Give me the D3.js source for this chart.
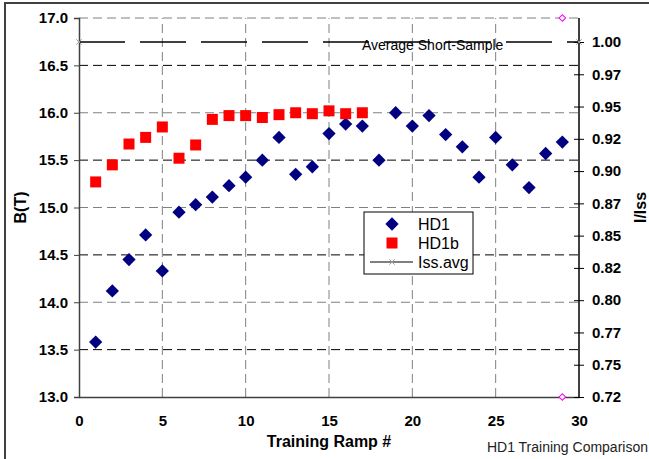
<!DOCTYPE html>
<html>
<head>
<meta charset="utf-8">
<script src="https://cdn.jsdelivr.net/npm/d3@7"></script>
<style>
  body { margin: 0; background: #fff; }
  text { font-family: "Liberation Sans", Arial, sans-serif; }
</style>
</head>
<body>
<div id="viz-container"></div>
<script>
// data
const ramps = d3.range(1, 30);
const hd1 = [13.58, 14.12, 14.45, 14.71, 14.33, 14.95, 15.03, 15.11, 15.23, 15.32,
             15.50, 15.74, 15.35, 15.43, 15.78, 15.88, 15.86, 15.50, 16.00, 15.86,
             15.97, 15.77, 15.64, 15.32, 15.74, 15.45, 15.21, 15.57, 15.69];
const hd1bRamps = d3.range(1, 18);
const hd1b = [15.27, 15.45, 15.67, 15.74, 15.85, 15.52, 15.66, 15.93, 15.97, 15.97,
              15.95, 15.98, 16.00, 15.99, 16.02, 15.99, 16.00];
const issAvgX = [0, 30];
const issAvgY = [1.0, 1.0];
const scalerX = [29, 29];
const scalerY = [17.0, 13.0];
const leftTicks = [13.0, 13.5, 14.0, 14.5, 15.0, 15.5, 16.0, 16.5, 17.0];
const rightTicks = [0.725, 0.75, 0.775, 0.8, 0.825, 0.85, 0.875, 0.9, 0.925, 0.95, 0.975, 1.0];
const rightLabels = ["0.72", "0.75", "0.77", "0.80", "0.82", "0.85", "0.87", "0.90", "0.92", "0.95", "0.97", "1.00"];
const xTicks = [0, 5, 10, 15, 20, 25, 30];

const width = 649, height = 459;
const marginLeft = 79, marginRight = 70, marginTop = 18, marginBottom = 62;

const svg = d3.select("#viz-container").append("svg")
  .attr("width", width).attr("height", height);

// outer frame
svg.append("rect").attr("x", 5).attr("y", 3).attr("width", 700).attr("height", 500)
  .attr("fill", "none").attr("stroke", "#404040").attr("stroke-width", 2);

const x = d3.scaleLinear().domain([0, 30]).range([marginLeft, width - marginRight]);
const y = d3.scaleLinear().domain([13, 17]).range([height - marginBottom, marginTop]);
// right axis: 0.725 at the bottom, 1.00 sits at y≈42
const y2 = d3.scaleLinear().domain([0.725, 1.0]).range([y(13), 42]);

// gridlines
svg.append("g").selectAll("line")
  .data(leftTicks.filter(d => d > 13))
  .join("line")
  .attr("x1", x(0)).attr("x2", x(30))
  .attr("y1", d => y(d)).attr("y2", d => y(d))
  .attr("stroke", d => d % 1 === 0 ? "#808080" : "#000")
  .attr("stroke-dasharray", "9,5");

svg.append("g").selectAll("line")
  .data([5, 10, 15, 20, 25])
  .join("line")
  .attr("x1", d => x(d)).attr("x2", d => x(d))
  .attr("y1", y(13)).attr("y2", y(17))
  .attr("stroke", "#808080")
  .attr("stroke-dasharray", "9,5");

// left axis
const yAxis = svg.append("g")
  .attr("transform", `translate(${marginLeft},0)`)
  .call(d3.axisLeft(y).tickValues(leftTicks).tickFormat(d3.format(".1f")).tickSize(5).tickPadding(6));
yAxis.select(".domain").attr("stroke", "#404040").attr("stroke-width", 1.5);
yAxis.selectAll(".tick line").attr("stroke", "#404040");
yAxis.selectAll("text").attr("font-size", 15).attr("font-weight", "bold").attr("fill", "#000")
  .attr("font-family", "Liberation Sans, Arial, sans-serif");

// bottom axis
const xAxis = svg.append("g")
  .attr("transform", `translate(0,${y(13)})`)
  .call(d3.axisBottom(x).tickValues(xTicks).tickSize(0).tickPadding(18));
xAxis.select(".domain").attr("stroke", "#404040").attr("stroke-width", 1.5);
xAxis.selectAll("text").attr("font-size", 15).attr("font-weight", "bold").attr("fill", "#000")
  .attr("font-family", "Liberation Sans, Arial, sans-serif");

// right axis
const y2Axis = svg.append("g")
  .attr("transform", `translate(${x(30)},0)`)
  .call(d3.axisRight(y2).tickValues(rightTicks).tickFormat((d, i) => rightLabels[i]).tickSize(5).tickPadding(8));
y2Axis.select(".domain").attr("d", `M0,${y(13)}V${y(17)}`).attr("stroke", "#000").attr("stroke-width", 1.5);
y2Axis.selectAll(".tick line").attr("x1", -5).attr("stroke", "#000");
y2Axis.selectAll("text").attr("font-size", 15).attr("font-weight", "bold").attr("fill", "#000")
  .attr("font-family", "Liberation Sans, Arial, sans-serif");

// Average short-sample line
const issLine = d3.line().x(d => x(d[0])).y(d => y2(d[1]));
svg.append("path")
  .datum(d3.zip(issAvgX, issAvgY))
  .attr("d", issLine)
  .attr("fill", "none").attr("stroke", "#000").attr("stroke-width", 1.3)
  .attr("stroke-dasharray", "46,15");
svg.append("g").selectAll("path")
  .data(d3.zip(issAvgX, issAvgY))
  .join("path")
  .attr("transform", d => `translate(${x(d[0])},${y2(d[1])})`)
  .attr("d", d3.symbol(d3.symbolX, 20))
  .attr("stroke", "#999").attr("fill", "none");

svg.append("text")
  .attr("x", 362).attr("y", 50)
  .attr("font-size", 14).attr("fill", "#000")
  .text("Average Short-Sample");

// HD1 diamonds
const diamond = d3.symbol(d3.symbolSquare, 88)();
svg.append("g").selectAll("path")
  .data(d3.zip(ramps, hd1))
  .join("path")
  .attr("transform", d => `translate(${x(d[0])},${y(d[1])}) rotate(45)`)
  .attr("d", diamond)
  .attr("fill", "#000080");

// HD1b squares
svg.append("g").selectAll("path")
  .data(d3.zip(hd1bRamps, hd1b))
  .join("path")
  .attr("transform", d => `translate(${x(d[0])},${y(d[1])})`)
  .attr("d", d3.symbol(d3.symbolSquare, 121))
  .attr("fill", "#ff0000");

// scaling markers
svg.append("g").selectAll("path")
  .data(d3.zip(scalerX, scalerY))
  .join("path")
  .attr("transform", d => `translate(${x(d[0])},${y(d[1])}) rotate(45)`)
  .attr("d", d3.symbol(d3.symbolSquare, 22))
  .attr("fill", "#fff").attr("stroke", "#ff00ff");

// legend
const lg = svg.append("g").attr("transform", "translate(364,212)");
lg.append("rect").attr("width", 109).attr("height", 62)
  .attr("fill", "#fff").attr("stroke", "#000");
lg.append("path").attr("transform", "translate(28,12) rotate(45)").attr("d", diamond).attr("fill", "#000080");
lg.append("path").attr("transform", "translate(28,31)").attr("d", d3.symbol(d3.symbolSquare, 121)).attr("fill", "#ff0000");
lg.append("line").attr("x1", 6).attr("x2", 49).attr("y1", 50).attr("y2", 50).attr("stroke", "#000");
lg.append("path").attr("transform", "translate(28,50)").attr("d", d3.symbol(d3.symbolX, 20)).attr("stroke", "#999");
const names = ["HD1", "HD1b", "Iss.avg"];
lg.selectAll("text.name").data(names).join("text")
  .attr("x", 54).attr("y", (d, i) => 18 + i * 19)
  .attr("font-size", 16).attr("fill", "#000")
  .text(d => d);

// axis titles
svg.append("text")
  .attr("transform", `translate(26,${(y(13) + y(17)) / 2}) rotate(-90)`)
  .attr("text-anchor", "middle").attr("font-size", 16).attr("font-weight", "bold")
  .text("B(T)");
svg.append("text")
  .attr("transform", `translate(646,${(y(13) + y(17)) / 2}) rotate(-90)`)
  .attr("text-anchor", "middle").attr("font-size", 16).attr("font-weight", "bold")
  .text("I/Iss");
svg.append("text")
  .attr("x", (x(0) + x(30)) / 2).attr("y", 447)
  .attr("text-anchor", "middle").attr("font-size", 16).attr("font-weight", "bold")
  .text("Training Ramp #");
svg.append("text")
  .attr("x", 648).attr("y", 452)
  .attr("text-anchor", "end").attr("font-size", 14).attr("fill", "#222")
  .text("HD1 Training Comparison");
</script>
</body>
</html>
